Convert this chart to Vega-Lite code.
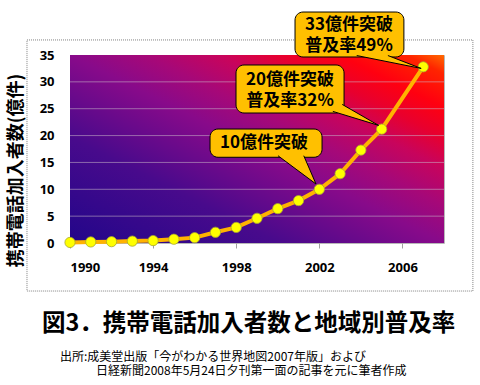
{
  "$schema": "https://vega.github.io/schema/vega-lite/v6.json",
  "width": 374,
  "height": 188,
  "autosize": "none",
  "padding": {"left": 70, "top": 55, "right": 36, "bottom": 142},
  "background": "white",
  "config": {"view": {"stroke": "#b8b8b8", "strokeWidth": 1}},
  "title": {
    "text": "図3．携帯電話加入者数と地域別普及率",
    "subtitle": ["\u2060\u3000\u2002出所:成美堂出版「今がわかる世界地図2007年版」および", "\u2060\u3000\u3000\u3000\u3000\u2002日経新聞2008年5月24日夕刊第一面の記事を元に筆者作成"],
    "orient": "bottom",
    "anchor": "start",
    "frame": "group",
    "dx": -28,
    "offset": 20,
    "font": "Noto Sans CJK JP",
    "fontSize": 23.5,
    "fontWeight": "bold",
    "color": "black",
    "subtitleFont": "Noto Sans CJK JP",
    "subtitleFontSize": 12,
    "subtitleFontWeight": "normal",
    "subtitleLineHeight": 14,
    "subtitleColor": "black",
    "subtitlePadding": 17
  },
  "layer": [
    {
      "data": {"values": [{"x": 1987.93, "x2": 2009.39, "y": -8.94, "y2": 37.8}]},
      "mark": {"type": "rect", "filled": false, "stroke": "#808080", "strokeWidth": 1, "strokeDash": [1, 1]},
      "encoding": {
        "x": {"field": "x", "type": "quantitative", "scale": {"domain": [1990, 2008], "nice": false, "zero": false},
          "axis": {"values": [1990, 1994, 1998, 2002, 2006], "format": "d", "title": null, "grid": false, "domain": false,
            "tickColor": "#a0a0a0", "tickSize": 5, "labelPadding": 13, "labelFont": "Open Sans", "labelFontSize": 13,
            "labelFontWeight": "bold", "labelColor": "black", "labelOverlap": false}},
        "x2": {"field": "x2"},
        "y": {"field": "y", "type": "quantitative", "scale": {"domain": [0, 35], "nice": false},
          "axis": {"values": [0, 5, 10, 15, 20, 25, 30, 35], "tickCount": 8, "title": "携帯電話加入者数(億件)", "grid": false, "domain": false,
            "ticks": false, "labelPadding": 16, "labelFont": "Open Sans", "labelFontSize": 13, "labelFontWeight": "bold",
            "labelColor": "black", "labelOverlap": false, "labelFlush": false, "titleX": -54, "titleY": 115, "titleAngle": -90,
            "titleFont": "Noto Sans CJK JP", "titleFontSize": 18, "titleFontWeight": "bold", "titleColor": "black",
            "titleAlign": "center", "titleBaseline": "middle"}},
        "y2": {"field": "y2"}
      }
    },
    {
      "data": {"values": [{"x": 1990, "x2": 2008, "y": 0, "y2": 35}]},
      "mark": {
        "type": "rect",
        "fill": {
          "gradient": "linear",
          "x1": 0, "y1": 1, "x2": 1, "y2": 0,
          "stops": [
            {"offset": 0, "color": "#22068a"},
            {"offset": 0.28, "color": "#480a8c"},
            {"offset": 0.5, "color": "#880a8a"},
            {"offset": 0.6, "color": "#a60878"},
            {"offset": 0.7, "color": "#c8045c"},
            {"offset": 0.78, "color": "#e8002e"},
            {"offset": 0.86, "color": "#ff0010"},
            {"offset": 0.95, "color": "#ff2400"},
            {"offset": 1, "color": "#ff6a00"}
          ]
        }
      },
      "encoding": {
        "x": {"field": "x", "type": "quantitative"},
        "x2": {"field": "x2"},
        "y": {"field": "y", "type": "quantitative"},
        "y2": {"field": "y2"}
      }
    },
    {
      "data": {"values": [{"g": 5}, {"g": 10}, {"g": 15}, {"g": 20}, {"g": 25}, {"g": 30}]},
      "mark": {"type": "rule", "stroke": "#c8b8c8", "strokeOpacity": 0.55, "strokeWidth": 1},
      "encoding": {
        "y": {"field": "g", "type": "quantitative"}
      }
    },
    {
      "data": {"name": "series", "values": [
        {"year": 1990, "v": 0.1}, {"year": 1991, "v": 0.2}, {"year": 1992, "v": 0.25},
        {"year": 1993, "v": 0.35}, {"year": 1994, "v": 0.45}, {"year": 1995, "v": 0.7},
        {"year": 1996, "v": 1.0}, {"year": 1997, "v": 2.0}, {"year": 1998, "v": 2.9},
        {"year": 1999, "v": 4.6}, {"year": 2000, "v": 6.4}, {"year": 2001, "v": 7.9},
        {"year": 2002, "v": 10.0}, {"year": 2003, "v": 12.9}, {"year": 2004, "v": 17.3},
        {"year": 2005, "v": 21.2}, {"year": 2007, "v": 32.8}
      ]},
      "layer": [
        {
          "mark": {"type": "line", "stroke": "#ffb300", "strokeWidth": 4},
          "encoding": {
            "x": {"field": "year", "type": "quantitative"},
            "y": {"field": "v", "type": "quantitative"}
          }
        },
        {
          "mark": {"type": "point", "filled": true, "fill": "#ffff00", "stroke": "#a8a830", "strokeWidth": 0.8, "size": 105, "opacity": 1},
          "encoding": {
            "x": {"field": "year", "type": "quantitative"},
            "y": {"field": "v", "type": "quantitative"}
          }
        }
      ]
    },
    {
      "data": {"values": [
        {"id": 1, "x": 1996.74, "x2": 2002.13, "y": 15.96, "y2": 21.22},
        {"id": 2, "x": 1997.99, "x2": 2003.19, "y": 24.2, "y2": 33.14},
        {"id": 3, "x": 2000.83, "x2": 2006.07, "y": 34.63, "y2": 43.0}
      ]},
      "mark": {"type": "rect", "fill": "#ffc000", "stroke": "black", "strokeWidth": 1, "cornerRadius": 8},
      "encoding": {
        "x": {"field": "x", "type": "quantitative"},
        "x2": {"field": "x2"},
        "y": {"field": "y", "type": "quantitative"},
        "y2": {"field": "y2"}
      }
    },
    {
      "data": {"values": [
        {"id": 1, "k": 1, "x": 2000.01, "y": 16.25},
        {"id": 1, "k": 2, "x": 2001.84, "y": 10.98},
        {"id": 1, "k": 3, "x": 2001.25, "y": 16.25},
        {"id": 2, "k": 1, "x": 2002.65, "y": 24.5},
        {"id": 2, "k": 2, "x": 2004.85, "y": 21.9},
        {"id": 2, "k": 3, "x": 2003.1, "y": 25.8},
        {"id": 3, "k": 1, "x": 2003.8, "y": 34.9},
        {"id": 3, "k": 2, "x": 2006.9, "y": 32.5},
        {"id": 3, "k": 3, "x": 2005.3, "y": 34.9}
      ]},
      "mark": {"type": "line", "fill": "#ffc000", "stroke": "black", "strokeWidth": 1, "interpolate": "linear"},
      "encoding": {
        "x": {"field": "x", "type": "quantitative"},
        "y": {"field": "y", "type": "quantitative"},
        "detail": {"field": "id"},
        "order": {"field": "k"}
      }
    },
    {
      "data": {"values": [
        {"tx": 1999.34, "ty": 18.62, "label": "10億件突破"},
        {"tx": 2000.59, "ty": 30.4, "label": "20億件突破\n普及率32%"},
        {"tx": 2003.43, "ty": 40.6, "label": "33億件突破\n普及率49%"}
      ]},
      "mark": {"type": "text", "font": "Noto Sans CJK JP", "fontSize": 17, "fontWeight": "bold", "color": "black",
        "align": "center", "baseline": "middle", "lineBreak": "\n", "lineHeight": 21},
      "encoding": {
        "x": {"field": "tx", "type": "quantitative"},
        "y": {"field": "ty", "type": "quantitative"},
        "text": {"field": "label"}
      }
    }
  ]
}
